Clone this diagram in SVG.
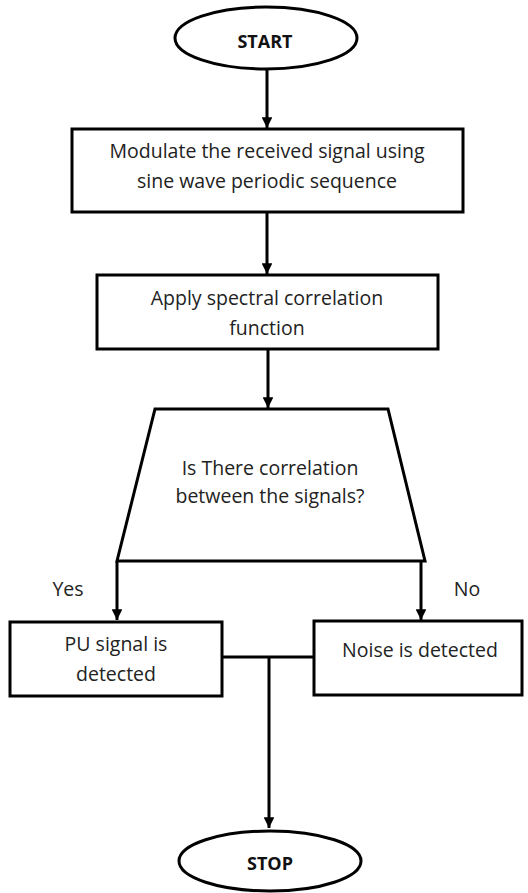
<svg xmlns="http://www.w3.org/2000/svg" width="528" height="893" viewBox="0 0 528 893">
  <style>
    .shape { fill: #ffffff; stroke: #000000; stroke-width: 3; }
    .wire { fill: none; stroke: #000000; stroke-width: 3; }
    .lbl { font-family: "Open Sans", "Liberation Sans", sans-serif; font-size: 19.5px; fill: #222222; text-anchor: middle; }
    .term { font-family: "Open Sans", "Liberation Sans", sans-serif; font-size: 18px; font-weight: bold; fill: #111111; text-anchor: middle; }
  </style>
  <defs>
    <marker id="arrow" viewBox="0 0 10 10" refX="10" refY="5" markerWidth="3.6" markerHeight="3.6" markerUnits="strokeWidth" orient="auto">
      <path d="M0,0 L10,5 L0,10 Z" fill="#000000"/>
    </marker>
  </defs>
  <rect width="528" height="893" fill="#ffffff"/>

  <!-- connectors -->
  <g id="connectors">
    <line class="wire" x1="267" y1="70" x2="267" y2="128" marker-end="url(#arrow)"/>
    <line class="wire" x1="267" y1="213" x2="267" y2="274" marker-end="url(#arrow)"/>
    <line class="wire" x1="268" y1="350" x2="268" y2="408" marker-end="url(#arrow)"/>
    <line class="wire" x1="117" y1="562" x2="117" y2="620" marker-end="url(#arrow)"/>
    <line class="wire" x1="421" y1="562" x2="421" y2="620" marker-end="url(#arrow)"/>
    <line class="wire" x1="222" y1="657" x2="313" y2="657"/>
    <line class="wire" x1="269" y1="657" x2="269" y2="828" marker-end="url(#arrow)"/>
    <text class="lbl" x="68" y="596">Yes</text>
    <text class="lbl" x="467" y="596">No</text>
  </g>

  <g id="start">
    <ellipse class="shape" cx="266" cy="38" rx="91" ry="31"/>
    <text class="term" x="265" y="48">START</text>
  </g>

  <g id="modulate">
    <rect class="shape" x="72" y="129" width="391" height="83"/>
    <text class="lbl" x="267" y="158">Modulate the received signal using</text>
    <text class="lbl" x="267" y="188">sine wave periodic sequence</text>
  </g>

  <g id="correlate">
    <rect class="shape" x="97" y="275" width="341" height="74"/>
    <text class="lbl" x="267" y="305">Apply spectral correlation</text>
    <text class="lbl" x="267" y="335">function</text>
  </g>

  <g id="decision">
    <polygon class="shape" points="155,409 388,409 425,561 117,561"/>
    <text class="lbl" x="270" y="475">Is There correlation</text>
    <text class="lbl" x="270" y="503">between the signals?</text>
  </g>

  <g id="pu-detected">
    <rect class="shape" x="10" y="622" width="212" height="74"/>
    <text class="lbl" x="116" y="651">PU signal is</text>
    <text class="lbl" x="116" y="681">detected</text>
  </g>

  <g id="noise-detected">
    <rect class="shape" x="314" y="621" width="208" height="74"/>
    <text class="lbl" x="420" y="657">Noise is detected</text>
  </g>

  <g id="stop">
    <ellipse class="shape" cx="270" cy="861" rx="91" ry="30"/>
    <text class="term" x="270" y="870">STOP</text>
  </g>
</svg>
